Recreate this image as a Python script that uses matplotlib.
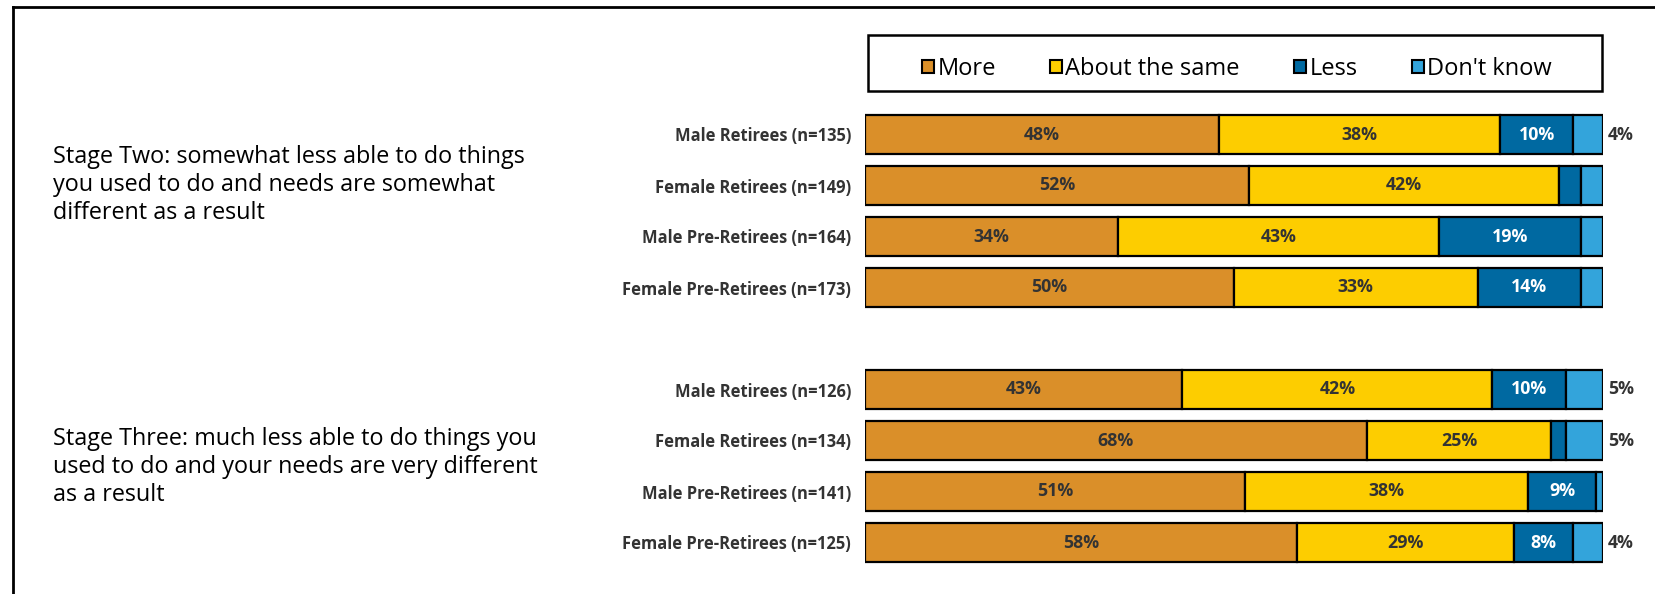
import matplotlib
matplotlib.use("Agg")
import matplotlib.pyplot as plt
from matplotlib.patches import Patch, Rectangle
from matplotlib.lines import Line2D
import numpy as np

plt.rcParams['font.family'] = ['Open Sans', 'DejaVu Sans']

categories = ["Male Retirees (n=135)", "Female Retirees (n=149)",
              "Male Pre-Retirees (n=164)", "Female Pre-Retirees (n=173)",
              "Male Retirees (n=126)", "Female Retirees (n=134)",
              "Male Pre-Retirees (n=141)", "Female Pre-Retirees (n=125)"]
series_names = ["More", "About the same", "Less", "Don't know"]
more = [48, 52, 34, 50, 43, 68, 51, 58]
same = [38, 42, 43, 33, 42, 25, 38, 29]
less = [10, 3, 19, 14, 10, 2, 9, 8]
dont_know = [4, 3, 3, 3, 5, 5, 1, 4]
stage_texts = ["Stage Two: somewhat less able to do things\nyou used to do and needs are somewhat\ndifferent as a result",
               "Stage Three: much less able to do things you\nused to do and your needs are very different\nas a result"]

colors = ["#DA8F29", "#FDCD00", "#0069A1", "#33A4DB"]
label_colors = ["#333333", "#333333", "white", "#333333"]

W, H = 1656, 594
fig = plt.figure(figsize=(W / 100, H / 100), dpi=100)

positions = [0, 1, 2, 3, 5, 6, 7, 8]
px_per_unit = 51.0
y_top = -134.5 / px_per_unit
y_bot = (H - 134.5) / px_per_unit

ax = fig.add_axes([865 / W, 0, (1603 - 865) / W, 1])
ax.set_xlim(0, 100)
ax.set_ylim(y_bot, y_top)

data = np.array([more, same, less, dont_know], dtype=float)
totals = data.sum(axis=0)
scaled = data / totals * 100
left = np.zeros(len(categories))
bar_h = 39 / px_per_unit
for i in range(4):
    ax.barh(positions, scaled[i], left=left, height=bar_h, color=colors[i],
            edgecolor="black", linewidth=1.6)
    for j, p in enumerate(positions):
        v = data[i, j]
        if i < 3 and v >= 5:
            ax.text(left[j] + scaled[i, j] / 2, p, f"{int(v)}%", ha="center",
                    va="center", fontsize=12.8, fontweight="bold",
                    color=label_colors[i])
        elif i == 3 and v >= 4:
            ax.text(100.7, p, f"{int(v)}%", ha="left", va="center",
                    fontsize=12.8, fontweight="bold", color="#333333",
                    clip_on=False)
    left += scaled[i]

ax.set_yticks(positions)
ax.set_yticklabels(categories, fontsize=11.9, fontweight="bold", color="#333333")
ax.tick_params(axis="y", length=0, pad=10)
ax.set_xticks([])
for s in ax.spines.values():
    s.set_visible(False)

by0 = (35 - 134.5) / px_per_unit
by1 = (91 - 134.5) / px_per_unit
ax.add_patch(Rectangle((0.4, by0), 99.4, by1 - by0, facecolor="white",
                       edgecolor="black", linewidth=1.8, clip_on=False))
handles = [Patch(facecolor=c, edgecolor="black", linewidth=1.5) for c in colors]
fig.legend(handles, series_names, loc="center", ncol=4, frameon=False,
           bbox_to_anchor=(1237 / W, 1 - 69 / H), fontsize=17,
           handlelength=0.5, handleheight=0.5, handletextpad=0.15,
           columnspacing=2.3, borderaxespad=0, borderpad=0)

fig.text(53 / W, 1 - 185 / H, stage_texts[0], ha="left", va="center",
         fontsize=16.8, color="black", linespacing=1.22)
fig.text(53 / W, 1 - 467 / H, stage_texts[1], ha="left", va="center",
         fontsize=16.8, color="black", linespacing=1.22)

fig.add_artist(Line2D([13 / W, 1], [1 - 7 / H, 1 - 7 / H], transform=fig.transFigure,
                      color="black", linewidth=2))
fig.add_artist(Line2D([13 / W, 13 / W], [0, 1 - 7 / H], transform=fig.transFigure,
                      color="black", linewidth=2))

fig.savefig("out.png", dpi=100)
